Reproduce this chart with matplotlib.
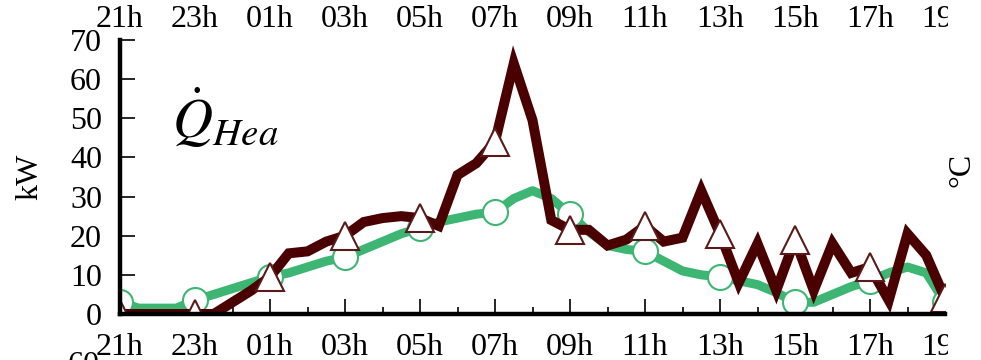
import numpy as np
import matplotlib
matplotlib.use("Agg")
import matplotlib.pyplot as plt
from matplotlib.patches import Rectangle

plt.rcParams['font.family'] = ['Liberation Serif', 'DejaVu Serif']
plt.rcParams['mathtext.fontset'] = 'stix'

# half-hour samples starting at 21h
t = np.arange(0, 22.5, 0.5)
tick_labels = ['21h', '23h', '01h', '03h', '05h', '07h', '09h',
               '11h', '13h', '15h', '17h', '19h']

q_green = [3, 1.5, 1.5, 1.5, 3.5, 5, 6.5, 8, 9.5, 10.5, 12, 13.5,
           14.5, 16.5, 18.5, 20.5, 22, 23.5, 24.5, 25.5, 26, 29.5, 31.5, 29.5,
           25.5, 21, 17.5, 16.5, 16, 13.5, 11, 10, 9.5, 8.5, 7.5, 5.5,
           3, 3, 5, 7, 8.5, 10.5, 12, 10.5, 3]
q_dark = [0, 0, 0, 0, 0, 0, 3, 6, 9.5, 15.5, 16, 18.5,
          20, 23.5, 24.5, 25, 24.5, 22.5, 35.5, 38.5, 44, 64, 49.5, 24,
          21.5, 21.5, 17.5, 19, 22.5, 18.5, 19.5, 31.5, 20.5, 8, 18, 6,
          19, 6, 18, 10.5, 12, 3.5, 20.5, 15, 4]

green = '#3cb672'
dark = '#4a0000'

fig = plt.figure(figsize=(9.81, 3.6), dpi=100)
ax = fig.add_axes([120/981, 1 - 314/360, 825/981, 274/360])

ax.plot(t, q_green, color=green, lw=6.5, marker='o', markevery=4, ms=18,
        mfc='white', mec=green, mew=1.5, solid_joinstyle='round')
ax.plot(t, q_dark, color=dark, lw=7.2, marker='^', markevery=4, ms=20,
        mfc='white', mec='#5a1a1a', mew=1.5, solid_joinstyle='miter')

ax.set_xlim(0, 22)
ax.set_ylim(0, 70)
ax.set_yticks(range(0, 71, 10))
ax.set_xticks(range(0, 23, 2))
ax.set_xticklabels(tick_labels)
ax.set_xticks(range(1, 23, 2), minor=True)

for s in ['top', 'right']:
    ax.spines[s].set_visible(False)
for s in ['left', 'bottom']:
    ax.spines[s].set_linewidth(3.2)

ax.tick_params(axis='both', which='major', direction='in', length=11,
               width=1.2, labelsize=23)
ax.tick_params(axis='y', pad=13)
ax.tick_params(axis='x', which='major', pad=13.5, top=False)
ax.tick_params(axis='x', which='minor', direction='in', length=5, width=1.2,
               top=False)

# hour labels repeated above the panel
top = ax.secondary_xaxis('top')
top.set_xticks(range(0, 23, 2))
top.set_xticklabels(tick_labels)
top.spines['top'].set_visible(False)
top.tick_params(length=0, pad=4, labelsize=23)

ax.text(1.4, 45, r'$\dot{Q}_{Hea}$', fontsize=40, va='baseline')

fig.text(30/981, 0.51, 'kW', rotation=90, fontsize=23, ha='center', va='center')
fig.text(962/981, 1 - 170/360, '°C', rotation=90, fontsize=23,
         ha='center', va='center')
# top of the next panel's tick label
fig.text(100/981, 1 - 351/360, '60', fontsize=23, ha='right', va='top')

# the source figure is cut off right of the axes
fig.add_artist(Rectangle((948/981, 0), 40/981, 44/360, transform=fig.transFigure,
                         facecolor='white', edgecolor='none', zorder=10))
fig.add_artist(Rectangle((948/981, 1 - 40/360), 40/981, 40/360,
                         transform=fig.transFigure,
                         facecolor='white', edgecolor='none', zorder=10))

fig.savefig('out.png', dpi=100)
